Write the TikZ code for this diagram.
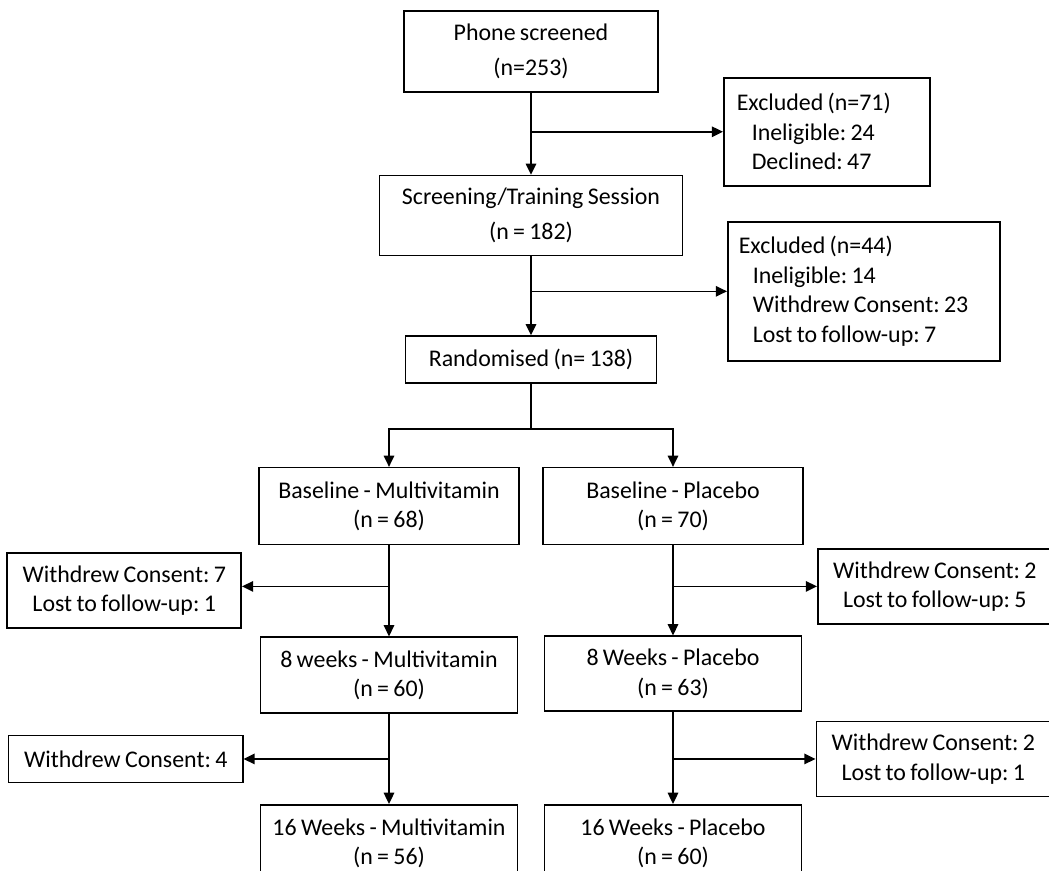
\documentclass[tikz,border=0pt]{standalone}
\usepackage{fontspec}
\setmainfont{Carlito}[WordSpace=0.8]
\frenchspacing
\usetikzlibrary{positioning, arrows.meta}
\tikzset{>={Triangle[width=7.5pt,length=8pt]}, node distance = 2cm}

\begin{document}
\begin{tikzpicture}[line width=1.1pt, box/.style={rectangle, draw=black, fill=white, align=center, inner sep=0pt, font=\fontsize{17}{21}\selectfont},
excl/.style={box, align=flush left, anchor=west},
sidebox/.style={box, minimum width=5.85cm, minimum height=1.875cm}]
    \useasboundingbox (0,0) rectangle (26.225,-21.775);

    \node[box, minimum width=6.35cm, minimum height=2.025cm] (phone) at (13.275,-1.2875) {Phone screened\\[4pt](n=253)};
    \node[box, below=2.05cm of phone, minimum width=7.575cm, minimum height=2cm] (screen) {Screening/Training Session\\[4pt](n = 182)};
    \node[box, below=1.975cm of screen, minimum width=6.275cm, minimum height=1.175cm] (random) {Randomised (n= 138)};

    \coordinate[below=0.975cm of phone] (b1);
    \node[excl, right=4.8cm of b1, inner xsep=0.325cm, text width=4.5cm, minimum height=2.7cm] (excl1) {Excluded (n=71)\\\hspace*{0.375cm}Ineligible: 24\\\hspace*{0.375cm}Declined: 47};
    \coordinate[below=0.875cm of screen] (b2);
    \node[excl, right=4.9cm of b2, inner xsep=0.275cm, text width=6.25cm, minimum height=3.475cm] (excl2) {Excluded (n=44)\\\hspace*{0.35cm}Ineligible: 14\\\hspace*{0.35cm}Withdrew Consent: 23\\\hspace*{0.35cm}Lost to follow-up: 7};

    % multivitamin arm
    \coordinate[below=1.125cm of random] (b3);
    \node[box, below=2.075cm of random, xshift=-3.55cm, minimum width=6.5cm, minimum height=1.925cm] (basemv) {Baseline - Multivitamin\\(n = 68)};
    \node[box, below=2.275cm of basemv, minimum width=6.425cm, minimum height=1.9cm] (wk8mv) {8 weeks - Multivitamin\\(n = 60)};
    \node[box, below=2.25cm of wk8mv, minimum width=6.425cm, minimum height=1.925cm] (wk16mv) {16 Weeks - Multivitamin\\(n = 56)};
    \coordinate[below=1.025cm of basemv] (b4);
    \node[sidebox, left=3.675cm of b4, yshift=-0.1cm] (wc7) {Withdrew Consent: 7\\Lost to follow-up: 1};
    \coordinate[below=1.125cm of wk8mv] (b6);
    \node[sidebox, left=3.6375cm of b6, minimum height=1.175cm] (wc4) {Withdrew Consent: 4};

    % placebo arm
    \node[box, below=2.075cm of random, xshift=3.55cm, minimum width=6.5cm, minimum height=1.925cm] (basep) {Baseline - Placebo\\(n = 70)};
    \node[box, below=2.25cm of basep, minimum width=6.425cm, minimum height=1.875cm] (wk8p) {8 Weeks - Placebo\\(n = 63)};
    \node[box, below=2.3cm of wk8p, minimum width=6.425cm, minimum height=1.925cm] (wk16p) {16 Weeks - Placebo\\(n = 60)};
    \coordinate[below=1.025cm of basep] (b5);
    \node[sidebox, right=3.6cm of b5] (wcr1) {Withdrew Consent: 2\\Lost to follow-up: 5};
    \coordinate[below=1.175cm of wk8p] (b7);
    \node[sidebox, right=3.5625cm of b7] (wcr2) {Withdrew Consent: 2\\Lost to follow-up: 1};

    \draw[->] (phone) -- (screen);
    \draw[->] (b1) -- (b1 -| excl1.west);
    \draw[->] (screen) -- (random);
    \draw[->] (b2) -- (b2 -| excl2.west);
    \draw (random) -- (b3);
    \draw[->] (b3) -| (basemv);
    \draw[->] (b3) -| (basep);
    \draw[->] (basemv) -- (wk8mv);
    \draw[->] (b4) -- (b4 -| wc7.east);
    \draw[->] (wk8mv) -- (wk16mv);
    \draw[->] (b6) -- (b6 -| wc4.east);
    \draw[->] (basep) -- (wk8p);
    \draw[->] (b5) -- (b5 -| wcr1.west);
    \draw[->] (wk8p) -- (wk16p);
    \draw[->] (b7) -- (b7 -| wcr2.west);
\end{tikzpicture}
\end{document}
